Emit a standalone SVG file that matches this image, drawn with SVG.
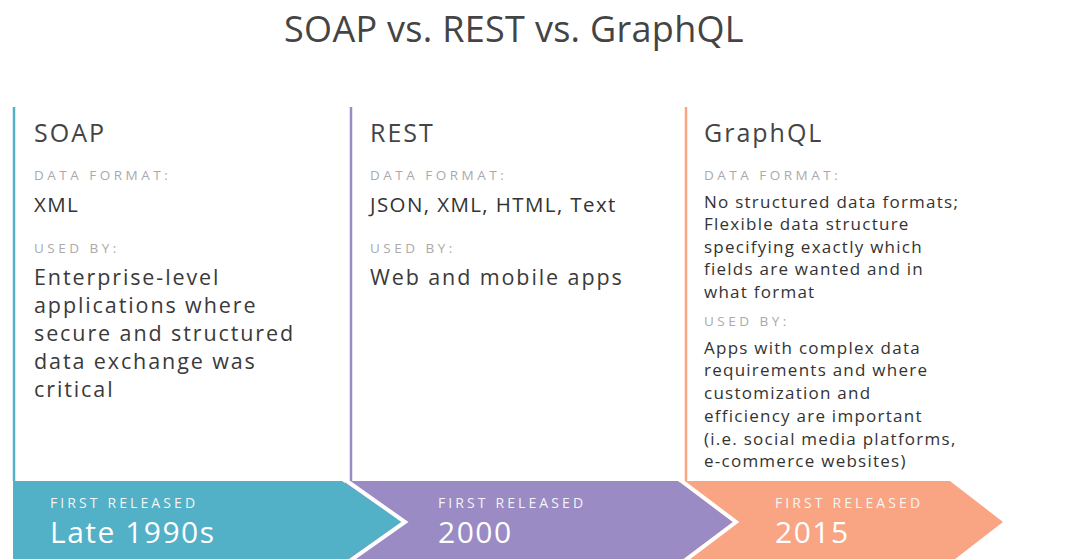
<svg xmlns="http://www.w3.org/2000/svg" width="1076" height="559" viewBox="0 0 1076 559">
<style>
text{font-family:"Open Sans","Noto Sans","Liberation Sans",sans-serif}
.title{font-size:36px;fill:#444;letter-spacing:0.3px}
.head{font-size:25px;fill:#444;letter-spacing:2px}
.lbl{font-size:13.5px;fill:#aaa;letter-spacing:3.5px}
.val{font-size:20.5px;fill:#333;letter-spacing:1.4px}
.body{font-size:21.5px;fill:#3a3a3a;letter-spacing:1.9px}
.small{font-size:17px;fill:#333;letter-spacing:1.25px}
.rel{font-size:14px;fill:#f4f4f4;letter-spacing:3.1px}
.year{font-size:30px;fill:#fff;letter-spacing:1.5px}
</style>
<rect width="1076" height="559" fill="#fff"/>
<text class="title" x="514" y="42" text-anchor="middle">SOAP vs. REST vs. GraphQL</text>

<g id="connectors">
<polygon points="680,481 950,481 1003,522 950,563 680,563" fill="#f9a584"/>
<polygon points="345,481 678,481 733,522 678,563 345,563" fill="#9a8bc4"/>
<polygon points="13,481 342,481 402,522 342,563 13,563" fill="#52b0c7"/>
<polyline points="344,479 405,522 344,565" fill="none" stroke="#fff" stroke-width="4"/>
<polyline points="679,479 736,522 679,565" fill="none" stroke="#fff" stroke-width="4"/>
</g>

<g id="soap">
<line x1="14" y1="107" x2="14" y2="481" stroke="#52b0c7" stroke-width="2.5"/>
<text class="head" x="34" y="142">SOAP</text>
<text class="lbl" x="34" y="180">DATA FORMAT:</text>
<text class="val" x="34" y="212">XML</text>
<text class="lbl" x="34" y="253">USED BY:</text>
<text class="body" x="34" y="285">Enterprise-level</text>
<text class="body" x="34" y="313">applications where</text>
<text class="body" x="34" y="341">secure and structured</text>
<text class="body" x="34" y="369">data exchange was</text>
<text class="body" x="34" y="397">critical</text>
<text class="rel" x="50" y="508">FIRST RELEASED</text>
<text class="year" x="50" y="543">Late 1990s</text>
</g>

<g id="rest">
<line x1="351" y1="107" x2="351" y2="481" stroke="#9a8bc4" stroke-width="2.5"/>
<text class="head" x="370" y="142">REST</text>
<text class="lbl" x="370" y="180">DATA FORMAT:</text>
<text class="val" x="370" y="212">JSON, XML, HTML, Text</text>
<text class="lbl" x="370" y="253">USED BY:</text>
<text class="body" x="370" y="285">Web and mobile apps</text>
<text class="rel" x="438" y="508">FIRST RELEASED</text>
<text class="year" x="438" y="543">2000</text>
</g>

<g id="graphql">
<line x1="686" y1="107" x2="686" y2="481" stroke="#f9a584" stroke-width="2.5"/>
<text class="head" x="704" y="142">GraphQL</text>
<text class="lbl" x="704" y="180">DATA FORMAT:</text>
<text class="small" x="704" y="208">No structured data formats;</text>
<text class="small" x="704" y="230">Flexible data structure</text>
<text class="small" x="704" y="253">specifying exactly which</text>
<text class="small" x="704" y="275">fields are wanted and in</text>
<text class="small" x="704" y="298">what format</text>
<text class="lbl" x="704" y="326">USED BY:</text>
<text class="small" x="704" y="354">Apps with complex data</text>
<text class="small" x="704" y="376">requirements and where</text>
<text class="small" x="704" y="399">customization and</text>
<text class="small" x="704" y="422">efficiency are important</text>
<text class="small" x="704" y="445">(i.e. social media platforms,</text>
<text class="small" x="704" y="467">e-commerce websites)</text>
<text class="rel" x="775" y="508">FIRST RELEASED</text>
<text class="year" x="775" y="543">2015</text>
</g>
</svg>
